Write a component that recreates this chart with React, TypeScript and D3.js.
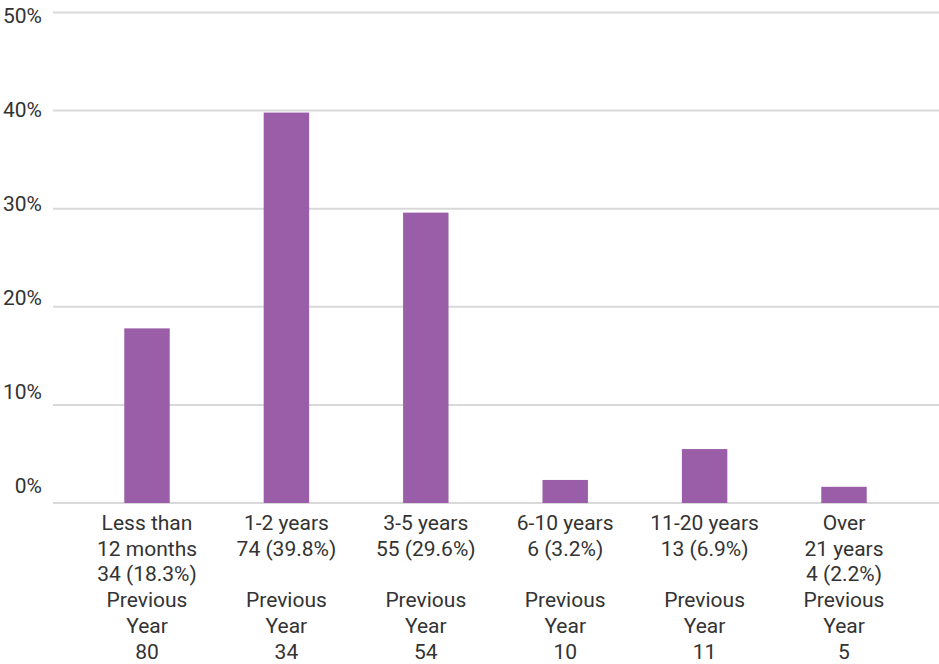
import React, { useEffect, useRef } from "react";
import * as d3 from "d3";

const categoryLabels: string[][] = [
  ["Less than", "12 months", "34 (18.3%)", "Previous", "Year", "80"],
  ["1-2 years", "74 (39.8%)", "", "Previous", "Year", "34"],
  ["3-5 years", "55 (29.6%)", "", "Previous", "Year", "54"],
  ["6-10 years", "6 (3.2%)", "", "Previous", "Year", "10"],
  ["11-20 years", "13 (6.9%)", "", "Previous", "Year", "11"],
  ["Over", "21 years", "4 (2.2%)", "Previous", "Year", "5"],
];
const categories: string[] = ["<12m", "1-2", "3-5", "6-10", "11-20", "21+"];
const values: number[] = [17.8, 39.8, 29.6, 2.35, 5.5, 1.65];
const yTicks: number[] = [0, 10, 20, 30, 40, 50];

const W = 939;
const H = 664;

export default function App() {
  const ref = useRef<SVGSVGElement>(null);

  useEffect(() => {
    const svg = d3.select(ref.current);
    svg.selectAll("*").remove();

    const x = d3
      .scaleBand<string>()
      .domain(categories)
      .range([77.3, 913.7])
      .paddingInner(0.674)
      .paddingOuter(0.337);
    const y = d3.scaleLinear().domain([0, 50]).range([503, 12.5]);
    const yLab = d3.scaleLinear().domain([0, 50]).range([486, 15.5]);

    const font = "Roboto, 'Noto Sans', sans-serif";

    svg
      .append("g")
      .selectAll("line")
      .data(yTicks)
      .join("line")
      .attr("x1", 53)
      .attr("x2", W)
      .attr("y1", (d) => y(d))
      .attr("y2", (d) => y(d))
      .attr("stroke", "#d9d9d9")
      .attr("stroke-width", 2);

    svg
      .append("g")
      .selectAll("text")
      .data(yTicks)
      .join("text")
      .attr("x", 42)
      .attr("y", (d) => yLab(d))
      .attr("dy", "0.35em")
      .attr("text-anchor", "end")
      .attr("font-family", font)
      .attr("font-size", 21)
      .attr("fill", "#333")
      .text((d) => `${d}%`);

    svg
      .append("g")
      .selectAll("rect")
      .data(values)
      .join("rect")
      .attr("x", (_, i) => x(categories[i])!)
      .attr("width", x.bandwidth())
      .attr("y", (d) => y(d))
      .attr("height", (d) => y(0) - y(d))
      .attr("fill", "#9a5ea9");

    const labels = svg
      .append("g")
      .selectAll("text")
      .data(categoryLabels)
      .join("text")
      .attr("text-anchor", "middle")
      .attr("font-family", font)
      .attr("font-size", 21)
      .attr("fill", "#333");

    labels.each(function (lines, i) {
      const cx = x(categories[i])! + x.bandwidth() / 2;
      d3.select(this)
        .selectAll("tspan")
        .data(lines)
        .join("tspan")
        .attr("x", cx)
        .attr("y", (_, k) => 530 + k * 25.7)
        .text((t) => t);
    });
  }, []);

  return (
    <svg
      ref={ref}
      width={W}
      height={H}
      style={{ position: "absolute", left: 0, top: 0, background: "#fff" }}
    />
  );
}
